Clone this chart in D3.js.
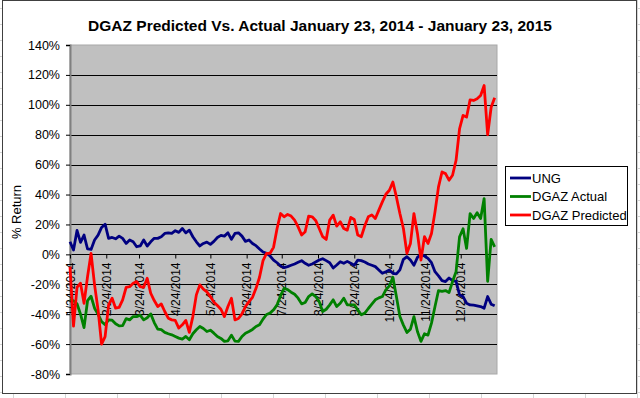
<!DOCTYPE html>
<html>
<head>
<meta charset="utf-8">
<script src="https://cdn.jsdelivr.net/npm/d3@7"></script>
<style>
  body { margin: 0; background: #fff; }
  text { font-family: Arial, "Liberation Sans", sans-serif; }
</style>
</head>
<body>
<svg id="svg" width="640" height="398"></svg>
<script>
// dates of the sampled points (every 3 days)
var dates = [
 "2014-01-24","2014-01-27","2014-01-30","2014-02-02","2014-02-05","2014-02-08","2014-02-11","2014-02-14","2014-02-17","2014-02-20",
 "2014-02-23","2014-02-26","2014-03-01","2014-03-04","2014-03-07","2014-03-10","2014-03-13","2014-03-16","2014-03-19","2014-03-22",
 "2014-03-25","2014-03-28","2014-03-31","2014-04-03","2014-04-06","2014-04-09","2014-04-12","2014-04-15","2014-04-18","2014-04-21",
 "2014-04-24","2014-04-27","2014-04-30","2014-05-03","2014-05-06","2014-05-09","2014-05-12","2014-05-15","2014-05-18","2014-05-21",
 "2014-05-24","2014-05-27","2014-05-30","2014-06-02","2014-06-05","2014-06-08","2014-06-11","2014-06-14","2014-06-17","2014-06-20",
 "2014-06-23","2014-06-26","2014-06-29","2014-07-02","2014-07-05","2014-07-08","2014-07-11","2014-07-14","2014-07-17","2014-07-20",
 "2014-07-23","2014-07-26","2014-07-29","2014-08-01","2014-08-04","2014-08-07","2014-08-10","2014-08-13","2014-08-16","2014-08-19",
 "2014-08-22","2014-08-25","2014-08-28","2014-08-31","2014-09-03","2014-09-06","2014-09-09","2014-09-12","2014-09-15","2014-09-18",
 "2014-09-21","2014-09-24","2014-09-27","2014-09-30","2014-10-03","2014-10-06","2014-10-09","2014-10-12","2014-10-15","2014-10-18",
 "2014-10-21","2014-10-24","2014-10-27","2014-10-30","2014-11-02","2014-11-05","2014-11-08","2014-11-11","2014-11-14","2014-11-17",
 "2014-11-20","2014-11-23","2014-11-26","2014-11-29","2014-12-02","2014-12-05","2014-12-08","2014-12-11","2014-12-14","2014-12-17",
 "2014-12-20","2014-12-23","2014-12-26","2014-12-29","2015-01-01","2015-01-04","2015-01-07","2015-01-10","2015-01-13","2015-01-16",
 "2015-01-19","2015-01-22"
];

var ung = [
 8.4, 2.9, 16, 8, 12.9, 3.6, 3.3, 9.6, 12.9, 18,
 20.2, 10.7, 11.3, 10.4, 12.2, 10.7, 7.3, 9.6, 8.4, 5.1,
 5.6, 9.6, 5.6, 8.4, 10.7, 10.7, 11.8, 14, 14.4, 14,
 15.8, 14.7, 17.3, 14.4, 16.2, 11.8, 8.4, 5.6, 7.3, 8.2,
 6.7, 8.7, 11.3, 12.7, 12.2, 14.4, 10, 14, 14.4, 12.2,
 8.7, 9.6, 7.3, 5.8, 3.6, 1.6, 0.7, -1.1, -3.8, -5.6,
 -7.8, -8.9, -8.2, -7.3, -6.4, -5.3, -4.2, -6, -7.3, -6.4,
 -5.1, -3.8, -2.9, -4.2, -5.6, -9.1, -7.1, -4.9, -6, -4.7,
 -6, -7.3, -3.8, -4.2, -5.1, -6.4, -7.3, -8.2, -10.4, -12.7,
 -11.6, -10.4, -12.7, -13.1, -10.4, -3.3, -1.6, -3.8, -7.3, -2,
 0, -1.1, -2.7, -5.6, -11.6, -14.4, -17.6, -18.2, -15.8, -17.6,
 -18, -27.1, -28.2, -32.7, -33.8, -34, -34.4, -34.9, -36, -28.2,
 -33.3, -34.4
];

var dgazActual = [
 -30, -31, -33, -40, -49, -31, -28, -36, -40, -45,
 -47, -43.8, -44, -46.4, -47.8, -47.6, -43, -43.8, -41.6, -41.6,
 -40.7, -43.8, -42.4, -39.8, -45.6, -50, -50.4, -52.2, -53.1, -53.8,
 -54.9, -56, -56.7, -54.9, -57.1, -53.1, -50.4, -48.2, -49.6, -51.6,
 -50.7, -52.7, -54.9, -56.2, -58.2, -57.8, -54, -58, -58.2, -54.9,
 -52.7, -51.6, -50.2, -48.2, -47.1, -43.3, -40.2, -39.3, -37.1, -33.8,
 -27.6, -22.7, -23.6, -25.3, -26.7, -29.3, -33.1, -32.2, -28.2, -26.4,
 -28.2, -31.6, -38.2, -36.7, -33.8, -30.4, -34.9, -32.7, -29.3, -33.8,
 -33.8, -33.8, -37.1, -40.4, -39.3, -36.2, -33.3, -30.4, -29.1, -28.2,
 -23.8, -21.1, -15.3, -28.2, -41.6, -47.3, -52.2, -50, -41.6, -51.6,
 -58.2, -53.1, -54, -46, -34.9, -24.2, -24.7, -24.2, -25.6, -18.2,
 -11.6, 11.8, 17.1, 4, 27.3, 24, 27.8, 24, 37.3, -18,
 10, 5
];

var dgazPredicted = [
 -8.2, -48, -22, -19.3, -32.7, -14.9, 0.7, -20.4, -37.1, -60,
 -55, -33.8, -29.3, -36, -35.5, -30.4, -22, -21.6, -19.3, -18.2,
 -21.6, -22, -16, -26, -30.9, -34.9, -33.1, -38.2, -42.7, -43.8,
 -44.2, -49.3, -47.1, -44.2, -52.2, -41.6, -27.1, -20.4, -23.3, -25.1,
 -28.2, -32, -34.2, -36.7, -41.6, -34.9, -29.3, -43.8, -42.9, -39.8,
 -34.9, -31.6, -28.7, -22.7, -15.3, -4.2, 0.7, 0.7, 4.7, 17.3,
 27.3, 25.1, 26.7, 25.6, 22.9, 18.4, 12.9, 15.1, 25.6, 25.1,
 22.7, 17.3, 11.8, 10, 22.9, 26.2, 18.9, 21.8, 17.3, 16.2,
 24.7, 23.3, 12.9, 11.8, 19.1, 25.1, 26.4, 24, 29.6, 35.1,
 40.2, 42.9, 48.4, 38.4, 27.3, 17.3, 0.7, 7.3, 27.3, 14,
 -3.8, 11.8, 7.3, 14, 28.4, 45.1, 55.1, 54, 49.6, 52.9,
 62.9, 84, 92.9, 91.8, 103.3, 102.9, 104, 106.2, 112.9, 80,
 98.4, 104.7
];

var seriesNames = ["UNG", "DGAZ Actual", "DGAZ Predicted"];
var seriesColors = ["#000080", "#008000", "#FF0000"];
var tickLabels = ["1/24/2014","2/24/2014","3/24/2014","4/24/2014","5/24/2014","6/24/2014",
                  "7/24/2014","8/24/2014","9/24/2014","10/24/2014","11/24/2014","12/24/2014"];
var yTicks = [-80, -60, -40, -20, 0, 20, 40, 60, 80, 100, 120, 140];

function draw() {
  var parseDate = d3.timeParse("%Y-%m-%d");
  var parseTick = d3.timeParse("%m/%d/%Y");
  var fmtTick = d3.timeFormat("%-m/%d/%Y");
  var fontFam = "Arial, 'Liberation Sans', sans-serif";

  var svg = d3.select("#svg");
  var W = 640, H = 398;

  // spreadsheet cells behind the chart
  var bg = svg.append("g");
  d3.range(13, W, 52).forEach(function(cx){
    bg.append("line").attr("x1", cx + .5).attr("x2", cx + .5).attr("y1", 0).attr("y2", H)
      .attr("stroke", "#d4d4d4");
  });
  d3.range(8, H, 16).forEach(function(cy){
    bg.append("line").attr("x1", 0).attr("x2", W).attr("y1", cy + .5).attr("y2", cy + .5)
      .attr("stroke", "#d4d4d4");
  });

  // chart area
  svg.append("rect").attr("x", 2.5).attr("y", 0.5).attr("width", 634).attr("height", 393)
    .attr("fill", "#fff").attr("stroke", "#404040");

  var pl = 70, pr = 497, pt = 45, pb = 374;

  var x = d3.scaleTime()
    .domain([new Date(2014, 0, 24), new Date(2015, 0, 24)])
    .range([pl, pr]);
  var y = d3.scaleLinear().domain([-80, 140]).range([pb, pt]);

  // plot area
  svg.append("rect").attr("x", pl).attr("y", pt)
    .attr("width", pr - pl).attr("height", pb - pt)
    .attr("fill", "#C0C0C0").attr("stroke", "#a8a8a8");

  // gridlines
  svg.append("g").selectAll("line")
    .data(yTicks.filter(function(v){ return v > -80 && v < 140; }))
    .enter().append("line")
    .attr("x1", pl).attr("x2", pr)
    .attr("y1", function(d){ return Math.round(y(d)) + .5; })
    .attr("y2", function(d){ return Math.round(y(d)) + .5; })
    .attr("stroke", "#000");

  // y axis
  var yAxis = svg.append("g").attr("transform", "translate(" + pl + ",0)")
    .call(d3.axisLeft(y).tickValues(yTicks).tickSize(4).tickPadding(6)
      .tickFormat(function(d){ return d + "%"; }));
  yAxis.select(".domain").attr("stroke", "#808080").attr("stroke-width", 2);
  yAxis.selectAll(".tick line").attr("stroke", "#000");
  yAxis.selectAll("text").attr("font-size", 12.5).attr("fill", "#000")
    .style("font-family", fontFam);

  // x axis on the 0% line
  var tickDates = tickLabels.map(parseTick);
  var xAxis = svg.append("g").attr("transform", "translate(0," + (Math.round(y(0)) + .5) + ")")
    .call(d3.axisBottom(x).tickValues(tickDates).tickSize(4).tickFormat(fmtTick));
  xAxis.select(".domain").remove();
  xAxis.selectAll(".tick line").attr("stroke", "#000");
  xAxis.selectAll("text")
    .attr("font-size", 12).attr("fill", "#000")
    .style("font-family", fontFam)
    .attr("text-anchor", "end")
    .attr("transform", "rotate(-90)")
    .attr("x", -8).attr("y", 0).attr("dy", "0.35em");

  // series
  var parsed = dates.map(parseDate);
  var line = d3.line()
    .x(function(d, i){ return x(parsed[i]); })
    .y(function(d){ return y(d); });

  [ung, dgazActual, dgazPredicted].forEach(function(s, i){
    svg.append("path").datum(s)
      .attr("d", line)
      .attr("fill", "none")
      .attr("stroke", seriesColors[i])
      .attr("stroke-width", 2.8)
      .attr("stroke-linejoin", "round");
  });

  // title
  svg.append("text").attr("x", 320).attr("y", 31).attr("text-anchor", "middle")
    .attr("font-size", 15.5).attr("font-weight", "bold")
    .text("DGAZ Predicted Vs. Actual January 23, 2014 - January 23, 2015");

  // y label
  svg.append("text").attr("transform", "translate(21,212) rotate(-90)")
    .attr("text-anchor", "middle").attr("font-size", 13)
    .text("% Return");

  // legend
  var lg = svg.append("g");
  lg.append("rect").attr("x", 505.5).attr("y", 166.5).attr("width", 122).attr("height", 59)
    .attr("fill", "#fff").attr("stroke", "#000");
  seriesNames.forEach(function(n, i){
    var ly = 178 + i * 18.5;
    lg.append("line").attr("x1", 510).attr("x2", 531).attr("y1", ly).attr("y2", ly)
      .attr("stroke", seriesColors[i]).attr("stroke-width", 2.8);
    lg.append("text").attr("x", 532).attr("y", ly).attr("dy", "0.35em")
      .attr("font-size", 13).text(n);
  });
}
draw();
</script>
</body>
</html>
